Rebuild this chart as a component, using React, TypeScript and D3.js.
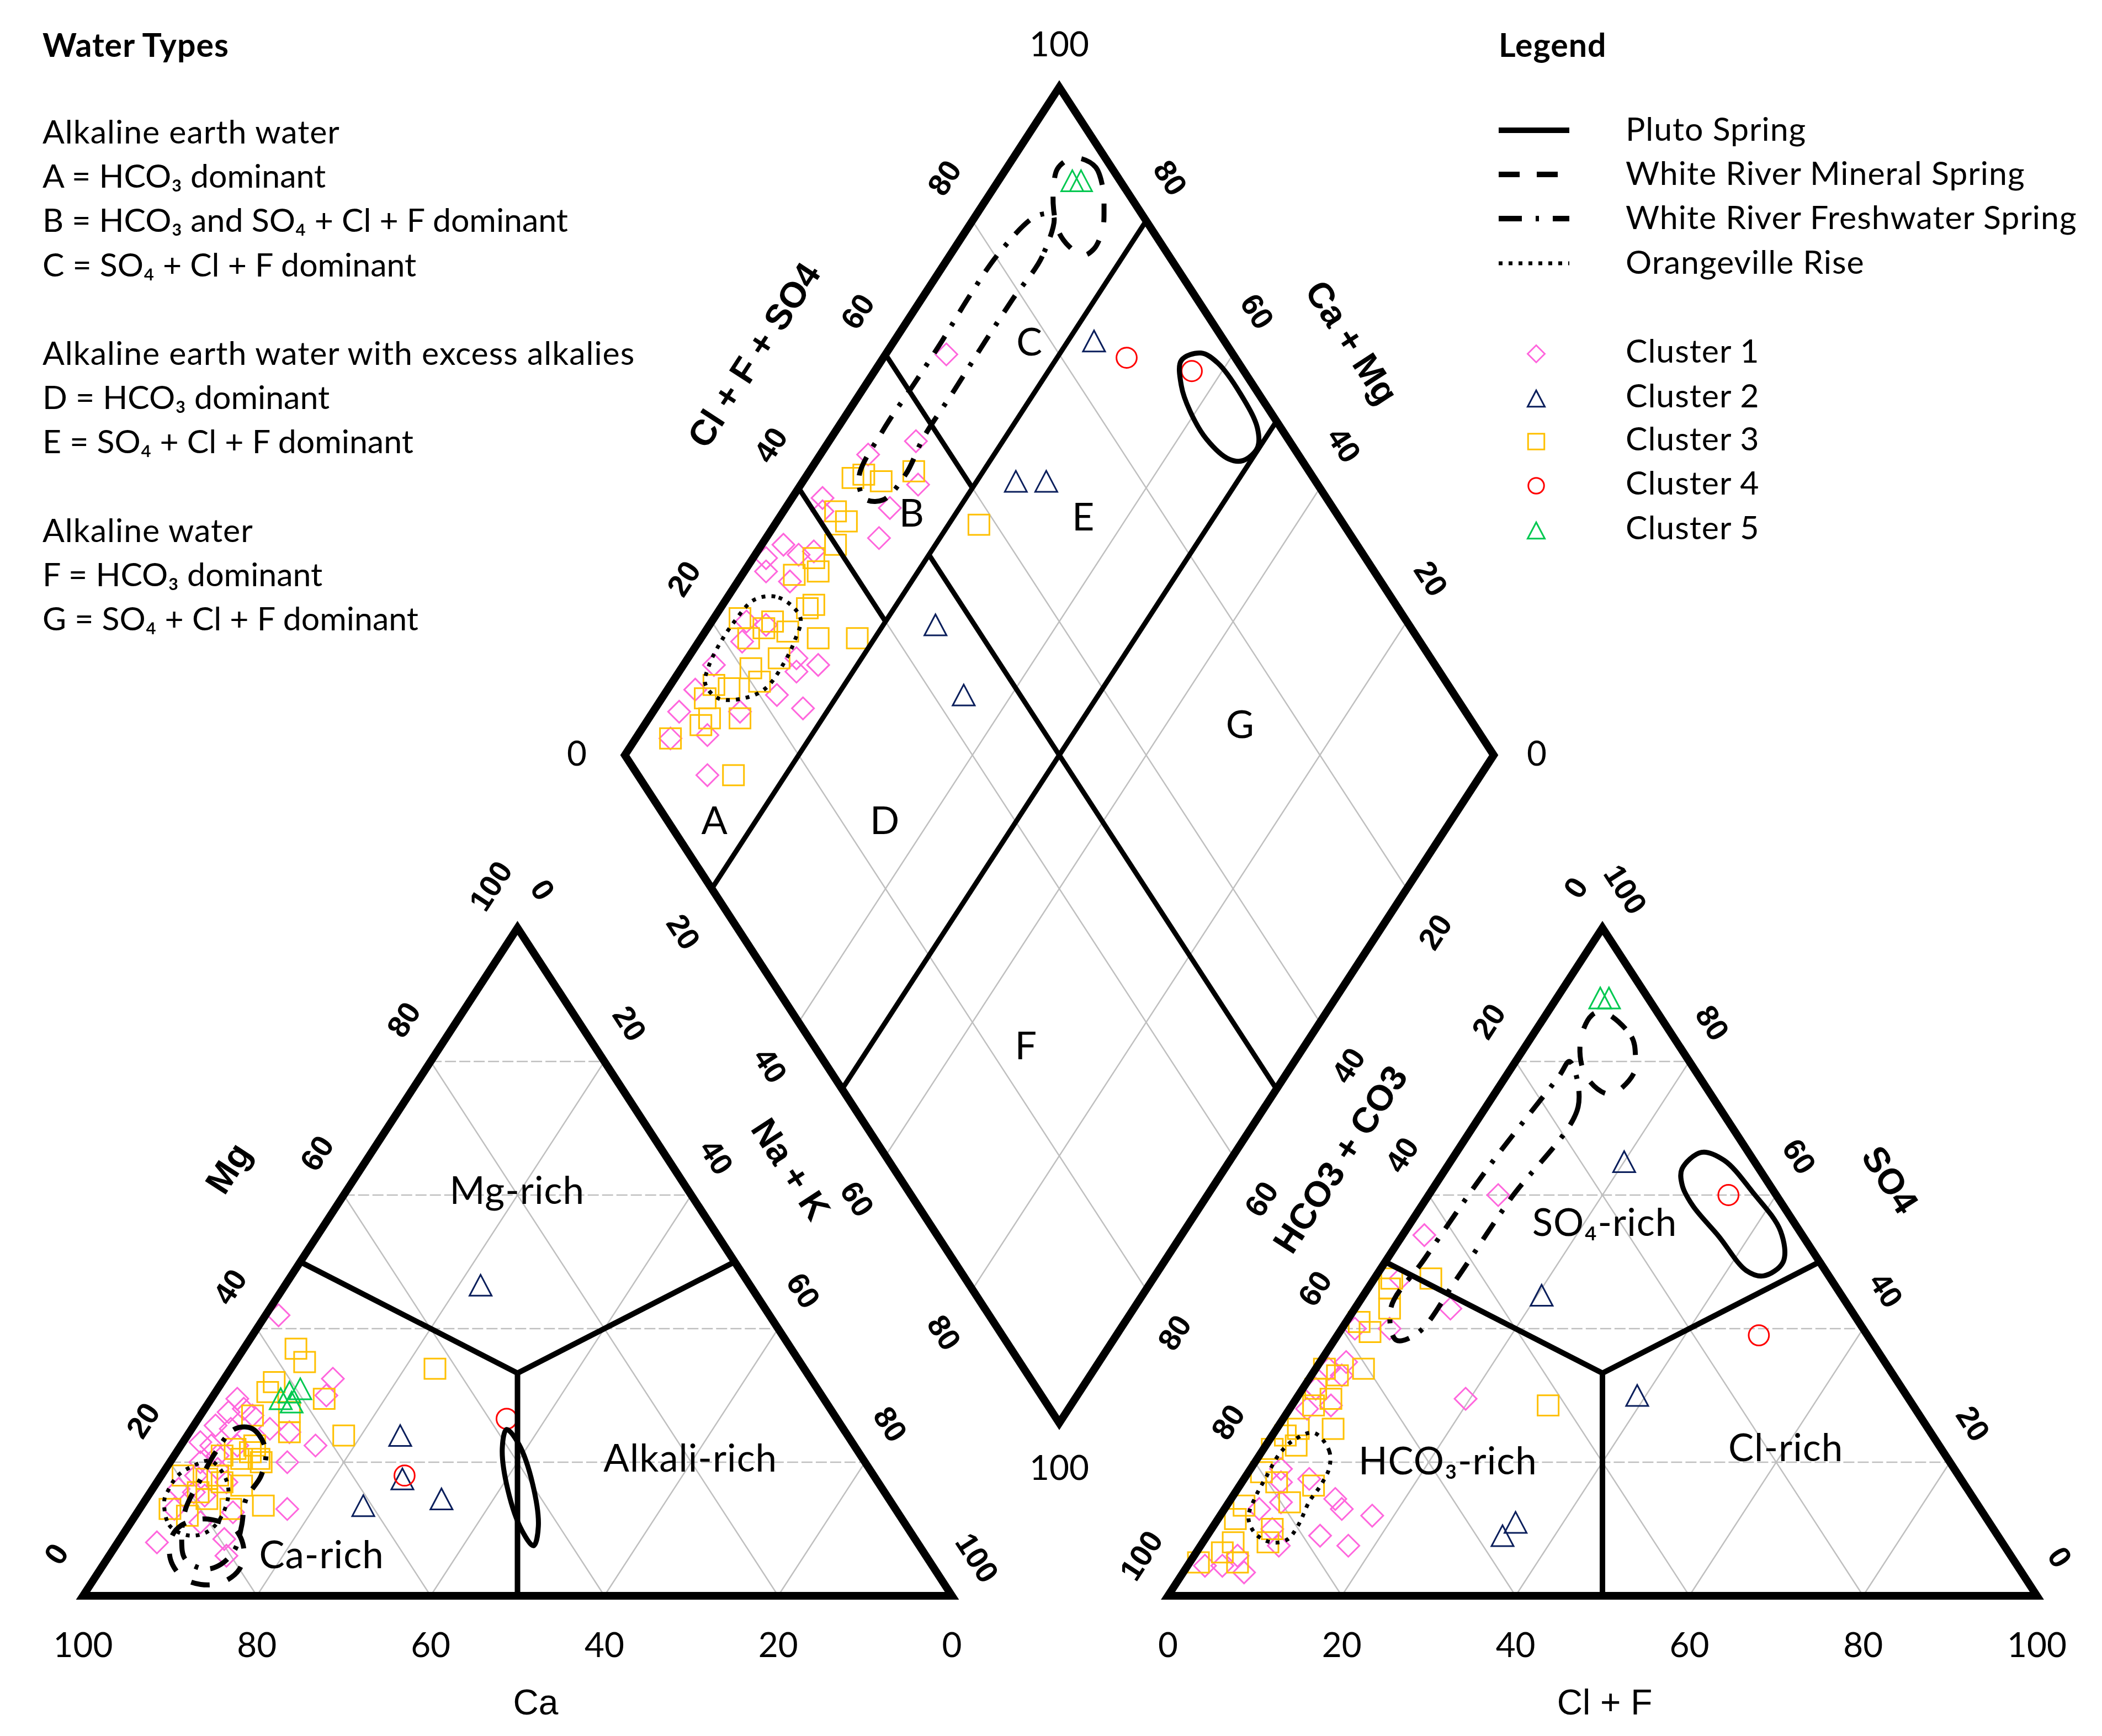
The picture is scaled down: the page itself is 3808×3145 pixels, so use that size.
import React from "react";
import * as d3 from "d3";

// ---------------- samples (percent of meq/L) ----------------
// cation triangle: [Mg, Na + K]   (Ca = 100 - Mg - Na - K)
const cationCluster1 = [
  [42, 1.5], [32.5, 12.5], [30, 13], [29.5, 3], [28, 4.5], [27.5, 3], [25.5, 2.5], [22.5, 15.5],
  [20, 13.5], [24.5, 11.5], [25, 9], [27, 6], [13, 17], [8.5, 12], [6, 13.5], [8, 4.5],
  [12.5, 11], [16, 3], [20, 3.5], [22.5, 3.5], [25, 4.5], [15.5, 5], [15, 6.5], [22.5, 6.5],
  [18, 4], [21, 5], [13, 4], [19, 6], [17, 8], [11, 8], [23, 2],
];
const cationCluster2 = [[24, 24.5], [17.5, 28], [13.5, 25.5], [14.5, 34], [46.5, 22.5]];
const cationCluster3 = [
  [37, 6], [35, 8], [34, 23.5], [32, 6], [30.5, 6], [29.5, 13], [27, 6], [27.5, 10], [24.5, 11.5],
  [24, 18], [20, 10.5], [16.5, 10], [13.5, 14], [13, 10.5], [13, 3.5], [12, 6], [18, 2.5],
  [21, 5.5], [20.5, 8], [22.5, 8.5], [20.5, 10], [18, 6.5], [17.5, 5.5], [17, 7.5], [15.5, 5.5],
  [14.5, 7], [22, 6.5], [21.5, 8.5],
];
const cationCluster4 = [[18, 28], [26.5, 35.5]];
const cationCluster5 = [[29.5, 8], [30.5, 8.5], [31, 9.5], [29, 9.5]];

// anion triangle: [SO4, Cl + F]   (HCO3 + CO3 = remainder)
const anionCluster1 = [
  [47.5, 3], [43, 11], [40, 5.5], [40, 1.5], [29.5, 19.5], [35, 3], [34, 1.5], [33, 3.5], [31, 1.5],
  [28, 2], [28.5, 4.5], [19, 3.5], [17.5, 7.5], [17, 4.5], [14.5, 12], [13, 13.5], [12, 17.5],
  [9, 13], [7.5, 17], [13, 4], [10, 7], [7.5, 9], [4.5, 4], [3.5, 7], [4.5, 2], [60, 8], [54, 2.5],
  [6, 5], [14, 6],
];
const anionCluster2 = [[45, 20.5], [30, 39], [11, 34.5], [9, 34], [65, 20]];
const anionCluster3 = [
  [47.5, 2], [47.5, 6.5], [46, 2.5], [43, 4], [41, 1.5], [39.5, 3.5], [34, 1], [34, 5.5], [33, 3],
  [31, 1.5], [29.5, 4], [28.5, 2.5], [25, 6.5], [25, 2.5], [24, 1.5], [22.5, 3.5], [22, 1],
  [18.5, 1.5], [17, 4], [16.5, 8.5], [14, 7], [13.5, 2], [11.5, 2], [10, 7], [8, 3.5], [8, 7.5],
  [5, 1], [5, 5.5], [6.5, 3], [28.5, 29.5],
];
const anionCluster4 = [[39, 48.5], [60, 34.5]];
const anionCluster5 = [[89.5, 5], [89.5, 6]];

// diamond: [Na + K, Cl + F + SO4]
const diamondCluster1 = [
  [7, 67], [10, 57], [5.5, 50.5], [13.5, 54], [12, 49], [13, 45.5], [3.5, 42], [4.5, 41], [2.5, 34],
  [1.5, 31], [2.5, 30], [5, 35], [6.5, 37], [6, 32], [6.5, 26], [5, 22], [12.5, 27], [15.5, 29],
  [13.5, 26], [13, 22], [17, 24], [10, 16.5], [8, 11], [3.5, 17], [3, 9.5], [4, 6.5], [11, 8],
  [3.2, 13], [4, 24],
];
const diamondCluster2 = [[23, 85], [24.5, 65.5], [28, 69], [26, 45.5], [34.5, 43.5]];
const diamondCluster3 = [
  [5.5, 47], [6.5, 48.5], [9, 50], [12, 54.5], [6, 42.5], [8, 43], [8.5, 40], [7, 36.5], [8.5, 36],
  [6, 33], [10.5, 33], [10, 32], [13.5, 31], [18, 35.5], [3, 23.5], [7, 27], [9.5, 28], [6.5, 25.5],
  [5.5, 23], [10.5, 25], [8, 21], [10, 21], [7, 17], [5, 15.5], [5, 13.5], [7, 12.5], [6.5, 11],
  [10.5, 16], [4, 6.5], [14, 11], [23.5, 58],
];
const diamondCluster4 = [[28, 87.5], [36.5, 94]];
const diamondCluster5 = [[8.5, 94.5], [9.5, 95.5]];

// spring envelopes (same coordinate order as the panels above)
const plutoCation = [[7.5, 48.1], [10.4, 47.2], [16.7, 43.4], [22.7, 38.8], [24.9, 36.3], [22.1, 37.2], [15.8, 41], [9.8, 45.6]];
const mineralCation = [[10.5, 6], [11.5, 8], [11, 10.5], [10, 12.5], [7, 15], [4, 16], [2, 15], [1.7, 12.7], [2.8, 10], [5.5, 7.3], [8.7, 5.8]];
const freshCation = [[25, 5], [25, 7], [22, 10], [18, 11.5], [14.5, 11.5], [10.5, 13], [7, 14], [4.7, 13.5], [4, 12], [5.5, 9], [8.7, 7], [13, 5.3], [17.5, 4.8], [21.5, 4.5]];
const orangeCation = [[14.3, 2.2], [10.6, 4.6], [9.1, 7.3], [9.3, 9.2], [11, 10], [14.8, 9.3], [17.6, 7.6], [20.2, 4.6], [19.5, 3], [18, 1.9], [15.8, 1.9]];

const plutoAnion = [[63.9, 27.2], [66.4, 28.2], [65.2, 31.4], [60.5, 37], [54.6, 43.2], [50, 45.8], [47.9, 44.6], [48.7, 42.2], [53.8, 36.5], [58.4, 31.2], [61.4, 28.5]];
const mineralAnion = [[87.4, 6.4], [83.7, 11.5], [80.8, 13.4], [78.2, 14.5], [75.1, 13.3], [77.8, 9.2], [82.9, 6], [86.9, 5.3]];
const freshAnion = [[80, 6.2], [73.2, 10.6], [59.3, 9.7], [47.5, 9.5], [39.4, 9.1], [38.3, 7.1], [43.1, 4.1], [50.4, 4.3], [64.3, 4.8], [77.8, 6.1]];
const orangeAnion = [[24.4, 4.6], [21.7, 7.7], [19.1, 9], [16.5, 9.3], [14.1, 9.2], [10.6, 9.7], [8.4, 9.5], [8, 7.9], [9.3, 5.4], [11.7, 3.4], [14.5, 2.7], [17.8, 2.4], [21.3, 2.2], [23.3, 2.8]];

const plutoDiamond = [[34.5, 93.6], [36.2, 96.4], [38.9, 97.6], [43.8, 97.9], [48.3, 97.3], [49.8, 95.8], [49.1, 93.2], [47.4, 91.7], [43.3, 90.6], [39.3, 90.8], [36.4, 91.7]];
const mineralDiamond = [[7.9, 97.2], [10.2, 98.2], [12.5, 97.5], [14.3, 96], [15.6, 94.4], [16.1, 91.9], [15.3, 90.1], [13, 89.2], [10.8, 89.1], [8.5, 90.2], [6.8, 91.9], [5.9, 93.7], [6.6, 95.9]];
const freshDiamond = [[8.9, 89.7], [10.7, 85.4], [10.5, 78.7], [10.5, 71.9], [10.6, 65.3], [10.6, 58.2], [11.3, 53.3], [10.6, 48.8], [8.4, 46.8], [6.1, 47.8], [5.4, 54], [5.5, 61.4], [5.5, 67.5], [5.3, 74.2], [5.5, 80.8], [7, 87.7]];
const orangeDiamond = [[3.3, 26.6], [5.9, 29.5], [9.9, 30.5], [11, 28], [11.4, 25.4], [11.2, 21.2], [9.4, 17.9], [6.5, 15], [3.9, 14.6], [3, 16.3], [2.6, 18.9], [2.6, 22.5]];

const clusterNames = ["Cluster 1", "Cluster 2", "Cluster 3", "Cluster 4", "Cluster 5"];
const springNames = ["Pluto Spring", "White River Mineral Spring", "White River Freshwater Spring", "Orangeville Rise"];
const tickValues = [0, 20, 40, 60, 80, 100];
const innerTicks = [20, 40, 60, 80];

const waterTypes = [
  ["Alkaline earth water", "A = HCO₃ dominant", "B = HCO₃ and SO₄ + Cl + F dominant", "C = SO₄ + Cl + F dominant"],
  ["Alkaline earth water with excess alkalies", "D = HCO₃ dominant", "E = SO₄ + Cl + F dominant"],
  ["Alkaline water", "F = HCO₃ dominant", "G = SO₄ + Cl + F dominant"],
];

// ---------------- layout ----------------
const W = 3808;
const H = 3145;
const SIDE = 1574;
const TRI_H = 1210;
const BASE_Y = 2891;
const CAT_X0 = 150.5;
const AN_X0 = 2116;
const DIA_LX = 1132;
const DIA_LY = 1368;

const CAL = "Lato, 'Open Sans', 'Noto Sans', sans-serif";
const ARIAL = "'Liberation Sans', Arial, sans-serif";
const TEXT_SIZE = 59;

const styles = [
  { shape: "diamond", color: "#FF66DD" },
  { shape: "triangle", color: "#0B1F5C" },
  { shape: "square", color: "#FFC000" },
  { shape: "circle", color: "#FF0000" },
  { shape: "triangle", color: "#00C850" },
];
const springStyles = [
  { dash: undefined, width: 9 },
  { dash: "34 34", width: 9 },
  { dash: "36 22 7 22", width: 9 },
  { dash: "7 11", width: 7 },
];

const across = d3.scaleLinear().domain([0, 100]).range([0, SIDE]);
const halfAcross = d3.scaleLinear().domain([0, 100]).range([0, SIDE / 2]);
const rise = d3.scaleLinear().domain([0, 100]).range([0, TRI_H]);

// (apex component, right-corner component)
const catXY = (mg: number, nak: number): [number, number] => [CAT_X0 + across(nak) + halfAcross(mg), BASE_Y - rise(mg)];
const anXY = (so4: number, clf: number): [number, number] => [AN_X0 + across(clf) + halfAcross(so4), BASE_Y - rise(so4)];
const diaXY = (nak: number, s: number): [number, number] => [DIA_LX + halfAcross(nak) + halfAcross(s), DIA_LY + rise(nak) - rise(s)];

const lineGen = d3.line();
const loopGen = d3.line().curve(d3.curveCatmullRomClosed.alpha(0.5));

function Marker({ shape, color, x, y, r }: any) {
  if (shape === "circle") {
    return <circle cx={x} cy={y} r={r * 0.92} fill="none" stroke={color} strokeWidth={3} />;
  }
  let d = "";
  if (shape === "diamond") d = `M${x},${y - r}L${x + r},${y}L${x},${y + r}L${x - r},${y}Z`;
  if (shape === "square") d = `M${x - r * 0.95},${y - r * 0.92}H${x + r * 0.95}V${y + r * 0.92}H${x - r * 0.95}Z`;
  if (shape === "triangle") d = `M${x},${y - r * 0.95}L${x + r},${y + r * 0.95}L${x - r},${y + r * 0.95}Z`;
  return <path d={d} fill="none" stroke={color} strokeWidth={3} strokeLinejoin="miter" />;
}

function triangleGrid(f: (a: number, b: number) => [number, number]) {
  const out: { pts: [number, number][]; dashed: boolean }[] = [];
  innerTicks.forEach((v) => {
    out.push({ pts: [f(v, 0), f(v, 100 - v)], dashed: true });
    out.push({ pts: [f(0, v), f(100 - v, v)], dashed: false });
    out.push({ pts: [f(0, 100 - v), f(100 - v, 0)], dashed: false });
  });
  return out;
}

function triangleClasses(f: (a: number, b: number) => [number, number]) {
  const c = f(100 / 3, 100 / 3);
  return [[c, f(50, 0)], [c, f(50, 50)], [c, f(0, 50)]];
}

export default function App() {
  const grid = [...triangleGrid(catXY), ...triangleGrid(anXY)];
  innerTicks.forEach((v) => {
    grid.push({ pts: [diaXY(v, 0), diaXY(v, 100)], dashed: false });
    grid.push({ pts: [diaXY(0, v), diaXY(100, v)], dashed: false });
  });

  const classLines = [...triangleClasses(catXY), ...triangleClasses(anXY)];
  const diaClass = [
    [diaXY(20, 0), diaXY(20, 100)],
    [diaXY(50, 0), diaXY(50, 100)],
    [diaXY(0, 40), diaXY(20, 40)],
    [diaXY(0, 60), diaXY(20, 60)],
    [diaXY(20, 50), diaXY(100, 50)],
  ];

  const outlines = [
    [catXY(0, 0), catXY(100, 0), catXY(0, 100)],
    [anXY(0, 0), anXY(100, 0), anXY(0, 100)],
    [diaXY(0, 0), diaXY(0, 100), diaXY(100, 100), diaXY(100, 0)],
  ];

  const panels = [
    { f: catXY, sets: [cationCluster1, cationCluster2, cationCluster3, cationCluster4, cationCluster5] },
    { f: anXY, sets: [anionCluster1, anionCluster2, anionCluster3, anionCluster4, anionCluster5] },
    { f: diaXY, sets: [diamondCluster1, diamondCluster2, diamondCluster3, diamondCluster4, diamondCluster5] },
  ];

  const loops = [
    { f: catXY, sets: [plutoCation, mineralCation, freshCation, orangeCation] },
    { f: anXY, sets: [plutoAnion, mineralAnion, freshAnion, orangeAnion] },
    { f: diaXY, sets: [plutoDiamond, mineralDiamond, freshDiamond, orangeDiamond] },
  ];

  // tick labels
  type Lbl = { x: number; y: number; t: string; rot: number; flat: boolean };
  const labels: Lbl[] = [];
  const rotLabel = (p: [number, number], o: number[], rot: number, v: number) =>
    labels.push({ x: p[0] + o[0], y: p[1] + o[1], t: String(v), rot, flat: false });
  const flatLabel = (p: [number, number], o: number[], v: number) =>
    labels.push({ x: p[0] + o[0], y: p[1] + o[1], t: String(v), rot: 0, flat: true });

  tickValues.forEach((v) => rotLabel(catXY(v, 0), [-49, -76], -57, v)); // Mg
  tickValues.forEach((v) => rotLabel(catXY(100 - v, v), [46, -69], 57, v)); // Na + K
  tickValues.forEach((v) => flatLabel(catXY(0, 100 - v), [0, 89], v)); // Ca
  tickValues.forEach((v) => rotLabel(anXY(100 - v, 0), [-49, -73], -57, v)); // HCO3 + CO3
  tickValues.forEach((v) => rotLabel(anXY(v, 100 - v), [42, -70], 57, v)); // SO4
  tickValues.forEach((v) => flatLabel(anXY(0, v), [0, 89], v)); // Cl + F
  innerTicks.forEach((v) => rotLabel(diaXY(0, v), [-51, -78], -57, v));
  flatLabel(diaXY(0, 0), [-87, -3], 0);
  flatLabel(diaXY(0, 100), [0, -78], 100);
  innerTicks.forEach((v) => rotLabel(diaXY(100 - v, 100), [44, -78], 57, v));
  flatLabel(diaXY(100, 100), [78, -3], 0);
  innerTicks.forEach((v) => rotLabel(diaXY(v, 0), [-51, 78], 57, v));
  flatLabel(diaXY(100, 0), [0, 81], 100);
  innerTicks.forEach((v) => rotLabel(diaXY(100, 100 - v), [51, 78], -57, v));

  const axisTitles = [
    { p: catXY(50, 0), o: [-131, -170], rot: -57, t: "Mg", bold: true },
    { p: catXY(50, 50), o: [102, -168], rot: 57, t: "Na + K", bold: true },
    { p: catXY(0, 50), o: [33, 193], rot: 0, t: "Ca", bold: false },
    { p: anXY(50, 0), o: [-82, -186], rot: -57, t: "HCO3 + CO3", bold: true },
    { p: anXY(50, 50), o: [128, -149], rot: 57, t: "SO4", bold: true },
    { p: anXY(0, 50), o: [4, 193], rot: 0, t: "Cl + F", bold: false },
    { p: diaXY(0, 50), o: [-160, -120], rot: -57, t: "Cl + F + SO4", bold: true },
    { p: diaXY(50, 100), o: [137, -143], rot: 57, t: "Ca + Mg", bold: true },
  ];

  const regionLabels = [
    { p: diaXY(15.2, 5.4), t: "A" }, { p: diaXY(14.9, 51.1), t: "B" }, { p: diaXY(15.6, 77.5), t: "C" },
    { p: diaXY(34.8, 25), t: "D" }, { p: diaXY(34.9, 70.6), t: "E" }, { p: diaXY(67.9, 24.4), t: "F" },
    { p: diaXY(68.5, 73.1), t: "G" },
    { p: catXY(60.7, 19.6), t: "Mg-rich" }, { p: catXY(6.1, 24.4), t: "Ca-rich" }, { p: catXY(20.6, 59.6), t: "Alkali-rich" },
    { p: anXY(55.9, 22.3), t: "SO₄-rich" }, { p: anXY(20.2, 22.1), t: "HCO₃-rich" }, { p: anXY(22.2, 60), t: "Cl-rich" },
  ];

  // text block rows
  const wtRows: { t: string; y: number }[] = [];
  let y = 260;
  waterTypes.forEach((grp) => {
    grp.forEach((t) => {
      wtRows.push({ t, y });
      y += 80.2;
    });
    y += 80.2;
  });

  const legendLineY = [236, 316, 396, 477];
  const legendMarkY = [641, 722, 800, 880, 961];

  return (
    <svg width={W} height={H} style={{ position: "absolute", left: 0, top: 0, background: "#fff" }}>
      <rect width={W} height={H} fill="#fff" />
      {/* grid */}
      {grid.map((g, i) => (
        <path key={"g" + i} d={lineGen(g.pts) || ""} stroke="#BFBFBF" strokeWidth={2.5} fill="none" strokeDasharray={g.dashed ? "20 6" : undefined} />
      ))}
      {/* samples */}
      {panels.map((pn, pi) =>
        pn.sets.map((set, ci) =>
          set.map((d, i) => {
            const [x, yy] = pn.f(d[0], d[1]);
            return <Marker key={`m${pi}-${ci}-${i}`} shape={styles[ci].shape} color={styles[ci].color} x={x} y={yy} r={20} />;
          })
        )
      )}
      {/* classification lines */}
      {classLines.map((l, i) => (
        <path key={"c" + i} d={lineGen(l as any) || ""} stroke="#000" strokeWidth={10} fill="none" />
      ))}
      {diaClass.map((l, i) => (
        <path key={"dc" + i} d={lineGen(l as any) || ""} stroke="#000" strokeWidth={9} fill="none" />
      ))}
      {/* spring envelopes */}
      {loops.map((lp, li) =>
        lp.sets.map((set, si) => (
          <path
            key={`l${li}-${si}`}
            d={loopGen(set.map((d) => lp.f(d[0], d[1]))) || ""}
            fill="none"
            stroke="#000"
            strokeWidth={springStyles[si].width}
            strokeDasharray={springStyles[si].dash}
          />
        ))
      )}
      {/* outlines */}
      {outlines.map((o, i) => (
        <path key={"o" + i} d={(lineGen(o) || "") + "Z"} stroke="#000" strokeWidth={14} fill="none" strokeLinejoin="miter" />
      ))}
      {/* tick labels */}
      {labels.map((l, i) => (
        <text
          key={"t" + i}
          transform={`translate(${l.x},${l.y}) rotate(${l.rot})`}
          textAnchor="middle"
          dy="0.35em"
          fontFamily={l.flat ? CAL : ARIAL}
          fontWeight={l.flat ? 400 : 700}
          fontSize={l.flat ? 62 : 56}
        >
          {l.t}
        </text>
      ))}
      {axisTitles.map((a, i) => (
        <text
          key={"a" + i}
          transform={`translate(${a.p[0] + a.o[0]},${a.p[1] + a.o[1]}) rotate(${a.rot})`}
          textAnchor="middle"
          dy="0.35em"
          fontFamily={ARIAL}
          fontWeight={a.bold ? 700 : 400}
          fontSize={a.bold ? 65 : 64}
        >
          {a.t}
        </text>
      ))}
      {regionLabels.map((r, i) => (
        <text
          key={"r" + i}
          x={r.p[0]}
          y={r.p[1]}
          dy="0.35em"
          textAnchor="middle"
          fontFamily={CAL}
          fontSize={r.t.length === 1 ? 70 : 69}
          letterSpacing={r.t.length === 1 ? 0 : 1}
        >
          {r.t}
        </text>
      ))}
      {/* water types block */}
      <text x={77} y={103} fontFamily={CAL} fontWeight={700} fontSize={TEXT_SIZE} letterSpacing={1}>Water Types</text>
      {wtRows.map((r, i) => (
        <text key={"w" + i} x={77} y={r.y} fontFamily={CAL} fontSize={TEXT_SIZE} letterSpacing={r.t.includes("=") ? 0 : 1}>
          {r.t}
        </text>
      ))}
      {/* legend */}
      <text x={2715} y={103} fontFamily={CAL} fontWeight={700} fontSize={TEXT_SIZE} letterSpacing={1}>Legend</text>
      {springNames.map((n, i) => (
        <g key={"ls" + i}>
          <line
            x1={2715}
            x2={i === 1 ? 2822 : 2843}
            y1={legendLineY[i]}
            y2={legendLineY[i]}
            stroke="#000"
            strokeWidth={i === 3 ? 7 : 10}
            strokeDasharray={i === 0 ? undefined : i === 1 ? "38 31" : i === 2 ? "42 25 6 25 40" : "7 11"}
          />
          <text x={2945} y={legendLineY[i] + 19} fontFamily={CAL} fontSize={TEXT_SIZE} letterSpacing={1}>{n}</text>
        </g>
      ))}
      {clusterNames.map((n, i) => (
        <g key={"lc" + i}>
          <Marker shape={styles[i].shape} color={styles[i].color} x={2783} y={legendMarkY[i]} r={15.5} />
          <text x={2945} y={legendMarkY[i] + 16} fontFamily={CAL} fontSize={TEXT_SIZE} letterSpacing={1}>{n}</text>
        </g>
      ))}
    </svg>
  );
}
